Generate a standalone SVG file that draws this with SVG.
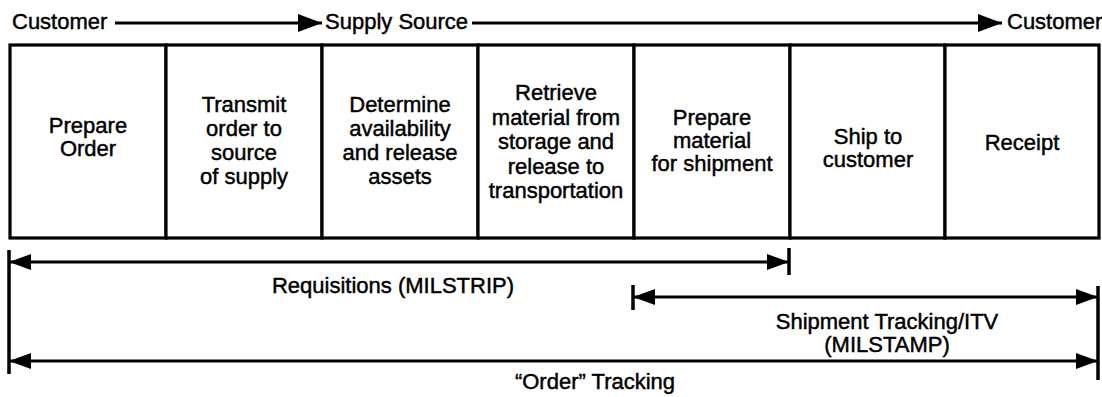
<svg xmlns="http://www.w3.org/2000/svg" width="1102" height="397" viewBox="0 0 1102 397">
<style>
  text { font-family: "Liberation Sans", Arial, sans-serif; font-size: 22px; fill: #000; stroke: #000; stroke-width: 0.45px; }
  .c { text-anchor: middle; }
  .box { fill: #fff; stroke: #000; stroke-width: 3.2; }
  .ln { stroke: #000; stroke-width: 3.2; fill: none; }
  .bar { stroke: #000; stroke-width: 3.5; fill: none; }
</style>
<defs>
  <marker id="ah" markerUnits="userSpaceOnUse" markerWidth="26" markerHeight="20" refX="24" refY="9" orient="auto-start-reverse">
    <path d="M0,0 L24,9 L0,18 z" fill="#000"/>
  </marker>
  <marker id="ahb" markerUnits="userSpaceOnUse" markerWidth="24" markerHeight="18" refX="22" refY="8" orient="auto-start-reverse">
    <path d="M0,0 L22,8 L0,16 z" fill="#000"/>
  </marker>
</defs>
<rect width="1102" height="397" fill="#fff"/>

<g id="flow-labels">
  <text x="12" y="29">Customer</text>
  <text x="325" y="29">Supply Source</text>
  <text x="1007" y="29">Customer</text>
</g>

<g id="boxes">
  <g id="n1">
    <rect class="box" x="10" y="45" width="156" height="193"/>
    <text class="c" x="88" y="133">Prepare</text>
    <text class="c" x="88" y="156">Order</text>
  </g>
  <g id="n2">
    <rect class="box" x="166" y="45" width="156" height="193"/>
    <text class="c" x="244" y="112">Transmit</text>
    <text class="c" x="244" y="136">order to</text>
    <text class="c" x="244" y="160">source</text>
    <text class="c" x="244" y="184">of supply</text>
  </g>
  <g id="n3">
    <rect class="box" x="322" y="45" width="156" height="193"/>
    <text class="c" x="400" y="112">Determine</text>
    <text class="c" x="400" y="136">availability</text>
    <text class="c" x="400" y="160">and release</text>
    <text class="c" x="400" y="184">assets</text>
  </g>
  <g id="n4">
    <rect class="box" x="478" y="45" width="156" height="193"/>
    <text class="c" x="556" y="100">Retrieve</text>
    <text class="c" x="556" y="125">material from</text>
    <text class="c" x="556" y="149">storage and</text>
    <text class="c" x="556" y="174">release to</text>
    <text class="c" x="556" y="198">transportation</text>
  </g>
  <g id="n5">
    <rect class="box" x="634" y="45" width="156" height="193"/>
    <text class="c" x="712" y="125">Prepare</text>
    <text class="c" x="712" y="148">material</text>
    <text class="c" x="712" y="171">for shipment</text>
  </g>
  <g id="n6">
    <rect class="box" x="790" y="45" width="155" height="193"/>
    <text class="c" x="868" y="144">Ship to</text>
    <text class="c" x="868" y="167">customer</text>
  </g>
  <g id="n7">
    <rect class="box" x="945" y="45" width="154" height="193"/>
    <text class="c" x="1022" y="150">Receipt</text>
  </g>
</g>

<g id="connectors">
  <line class="ln" x1="115" y1="23" x2="322" y2="23" marker-end="url(#ah)"/>
  <line class="ln" x1="472" y1="23" x2="1002" y2="23" marker-end="url(#ah)"/>

  <line class="bar" x1="9" y1="250" x2="9" y2="374"/>
  <line class="ln" x1="9" y1="262" x2="789" y2="262" marker-start="url(#ahb)" marker-end="url(#ahb)"/>
  <line class="bar" x1="789" y1="248" x2="789" y2="275"/>

  <line class="bar" x1="633" y1="285" x2="633" y2="310"/>
  <line class="ln" x1="633" y1="297" x2="1098" y2="297" marker-start="url(#ahb)" marker-end="url(#ahb)"/>
  <line class="bar" x1="1098" y1="286" x2="1098" y2="380"/>

  <line class="ln" x1="9" y1="361" x2="1098" y2="361" marker-start="url(#ahb)" marker-end="url(#ahb)"/>
</g>

<g id="span-labels">
  <text class="c" x="393" y="293">Requisitions (MILSTRIP)</text>
  <text class="c" x="887" y="329">Shipment Tracking/ITV</text>
  <text class="c" x="887" y="352">(MILSTAMP)</text>
  <text class="c" x="595" y="389">“Order” Tracking</text>
</g>
</svg>
